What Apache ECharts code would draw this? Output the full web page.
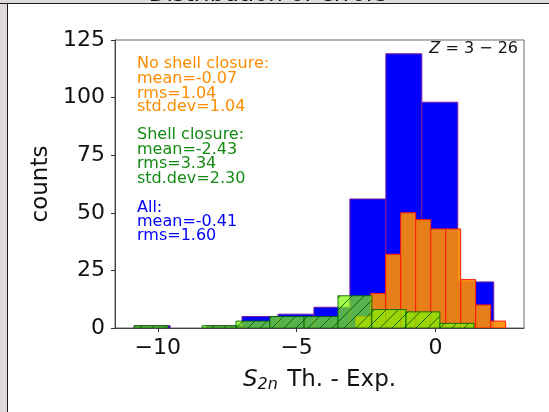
<!DOCTYPE html>
<html><head><meta charset="utf-8">
<script src="https://cdn.jsdelivr.net/npm/echarts@6/dist/echarts.min.js"></script>
<style>
html,body{margin:0;padding:0;background:#ffffff;overflow:hidden;width:549px;height:412px;}
#gl{position:absolute;left:0;top:0;width:7px;height:412px;background:#dedbda;border-right:1.5px solid #1a1a1a;}
#gt{position:absolute;left:0;top:0;width:549px;height:3px;background:#dedbda;border-bottom:1.5px solid #1a1a1a;}
#c{position:absolute;left:0;top:0;width:549px;height:412px;}
</style>
</head><body><div id="gl"></div><div id="gt"></div><div id="c"></div>
<script>
// ---- data ----
const xTicks = [-10, -5, 0];
const yTicks = [0, 25, 50, 75, 100, 125];

// All (blue)
const allEdges  = [-10.85, -9.555, -8.26, -6.965, -5.67, -4.375, -3.08, -1.785, -0.49, 0.805, 2.10];
const allCounts = [1, 0, 1, 5, 6, 9, 56, 119, 98, 20];

// No shell closure (orange)
const noShellEdges  = [-2.87, -2.33, -1.79, -1.25, -0.71, -0.17, 0.37, 0.91, 1.45, 1.99, 2.53];
const noShellCounts = [5, 15, 32, 50, 47, 43, 43, 21, 10, 3];

// Shell closure (green, hatched)
const shellEdges  = [-10.85, -9.63, -8.40, -7.18, -5.96, -4.73, -3.51, -2.29, -1.06, 0.16, 1.39];
const shellCounts = [1, 0, 1, 3, 5, 5, 14, 8, 7, 2];

const noShellText = ['No shell closure:', 'mean=-0.07', 'rms=1.04', 'std.dev=1.04'];
const shellText   = ['Shell closure:', 'mean=-2.43', 'rms=3.34', 'std.dev=2.30'];
const allText     = ['All:', 'mean=-0.41', 'rms=1.60'];

const FONT = 'DejaVu Sans';

// hatch pattern
const hc = document.createElement('canvas'); hc.width = 12; hc.height = 12;
const hg = hc.getContext('2d');
hg.strokeStyle = 'rgba(0,90,0,0.85)'; hg.lineWidth = 1;
hg.beginPath();
hg.moveTo(0, 12); hg.lineTo(12, 0);
hg.moveTo(-6, 6); hg.lineTo(6, -6);
hg.moveTo(6, 18); hg.lineTo(18, 6);
hg.stroke();
const hatch = { image: hc, repeat: 'repeat' };

function histSeries(name, edges, counts, styleFn, z) {
  const data = counts.map((c, i) => [edges[i], edges[i + 1], c]);
  return {
    type: 'custom', name, z, data,
    encode: { x: [0, 1], y: 2 },
    renderItem(params, api) {
      const x0 = api.value(0), x1 = api.value(1), c = api.value(2);
      const p0 = api.coord([x0, 0]), p1 = api.coord([x1, c]);
      const shape = { x: p0[0], y: p1[1], width: p1[0] - p0[0], height: p0[1] - p1[1] };
      if (c <= 0) return null;
      return styleFn(shape);
    }
  };
}

const chart = echarts.init(document.getElementById('c'));

const textEls = [];
function addLines(lines, color, baselines) {
  lines.forEach((t, i) => textEls.push({
    type: 'text', left: 137, top: baselines[i] - 13, z: 50,
    style: { text: t, fill: color, font: '16px "DejaVu Sans"' }
  }));
}
addLines(noShellText, '#ff8c00', [69, 84, 98.5, 112]);
addLines(shellText, '#138a13', [140, 154.5, 169, 183.5]);
addLines(allText, '#0000ff', [213, 227, 241]);

const fmt = v => v < 0 ? '\u2212' + Math.abs(v) : String(v);

chart.setOption({
  backgroundColor: 'transparent',
  animation: false,
  textStyle: { fontFamily: FONT },
  grid: { left: 115, right: 25, top: 40, bottom: 84, show: true, borderColor: '#666', borderWidth: 1, backgroundColor: 'transparent' },
  graphic: [
    { type: 'text', z: 60, x: 268, y: 6.3, style: { text: 'Distribution of errors', font: '23px "DejaVu Sans"', fill: '#111', align: 'center', verticalAlign: 'bottom' } },
    { type: 'text', z: 60, right: 31, top: 41, style: { text: '{i|Z} = 3 \u2212 26', font: '16px "DejaVu Sans"', fill: '#111', rich: { i: { fontStyle: 'italic', fontSize: 16, fontFamily: FONT, fill: '#111' } } } },
    ...textEls
  ],
  xAxis: {
    type: 'value', min: -11.54, max: 3.19, z: 10,
    name: '{s|S}{sub|2n}{t| Th. - Exp.}', nameLocation: 'middle', nameGap: 39,
    nameTextStyle: { color: '#111', fontSize: 23, fontFamily: FONT,
      rich: { s: { fontStyle: 'italic', fontSize: 23, fontFamily: FONT, color: '#111' },
              sub: { fontStyle: 'italic', fontSize: 16, fontFamily: FONT, color: '#111', verticalAlign: 'top', padding: [10, 2, 0, 0] },
              t: { fontSize: 23, fontFamily: FONT, color: '#111' } } },
    axisLine: { show: true, onZero: false, lineStyle: { color: '#444', width: 1 } },
    axisTick: { show: true, customValues: xTicks, length: 4, lineStyle: { color: '#333' } },
    axisLabel: { customValues: xTicks, formatter: fmt, fontSize: 22, color: '#111', margin: 9, fontFamily: FONT },
    splitLine: { show: false }
  },
  yAxis: {
    type: 'value', min: 0, max: 125, interval: 25, z: 10,
    name: 'counts', nameLocation: 'middle', nameGap: 53, nameRotate: 90,
    nameTextStyle: { color: '#111', fontSize: 23, fontFamily: FONT },
    axisLine: { show: true, onZero: false, lineStyle: { color: '#444', width: 1 } },
    axisTick: { show: true, length: 4, lineStyle: { color: '#333' } },
    axisLabel: { fontSize: 22, color: '#111', margin: 10, fontFamily: FONT, formatter: fmt },
    splitLine: { show: false }
  },
  series: [
    histSeries('All', allEdges, allCounts, shape => ({
      type: 'rect', shape, style: { fill: '#0000ff', stroke: '#7a1a9a', lineWidth: 1 }
    }), 2),
    histSeries('No shell closure', noShellEdges, noShellCounts, shape => ({
      type: 'rect', shape, style: { fill: 'rgba(255,140,0,0.9)', stroke: '#ff1a00', lineWidth: 1 }
    }), 3),
    histSeries('Shell closure', shellEdges, shellCounts, shape => ({
      type: 'group', children: [
        { type: 'rect', shape, style: { fill: 'rgba(124,252,0,0.7)' } },
        { type: 'rect', shape, style: { fill: hatch, stroke: 'rgba(0,100,0,0.85)', lineWidth: 1 } }
      ]
    }), 4)
  ]
});
</script></body></html>
